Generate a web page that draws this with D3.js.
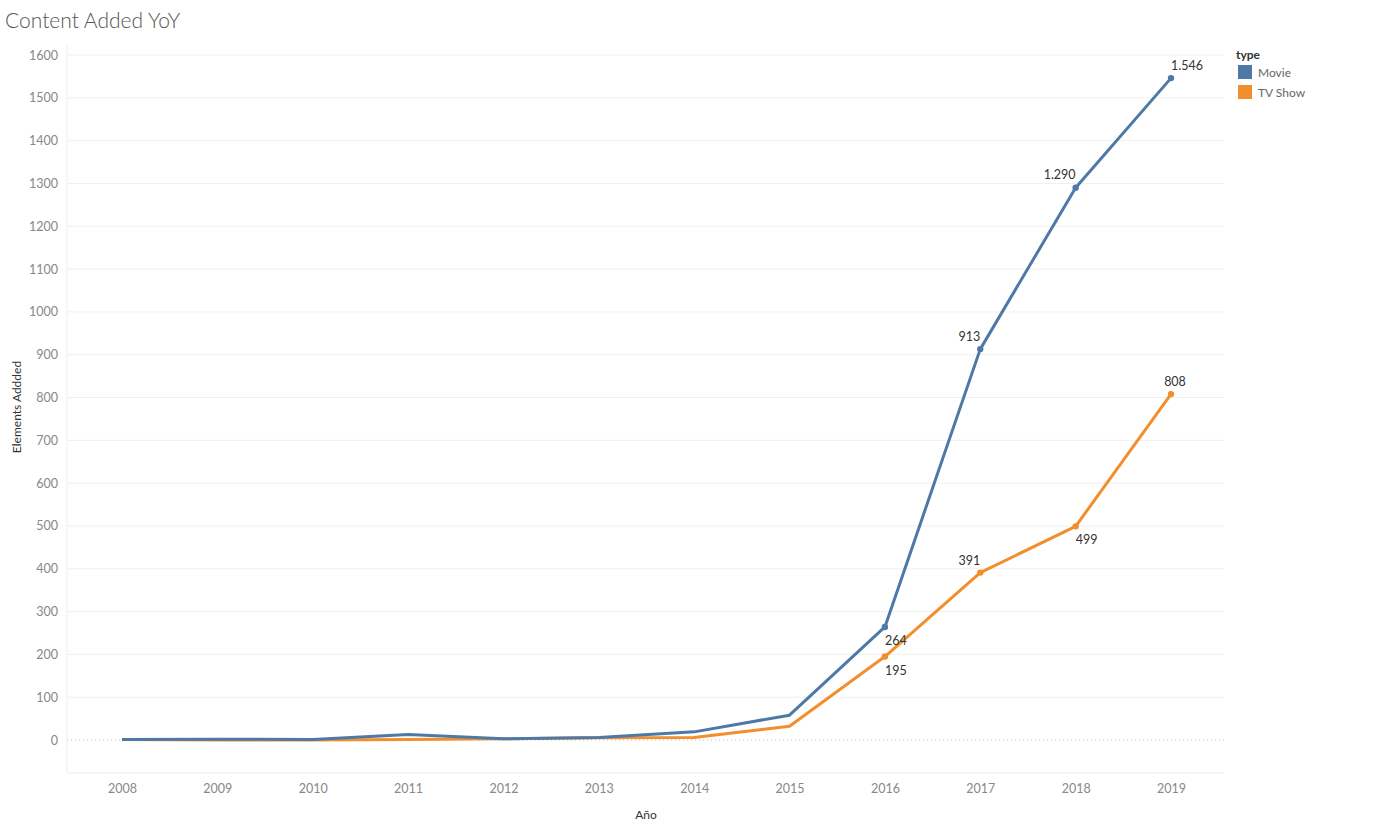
<!DOCTYPE html>
<html><head><meta charset="utf-8">
<script src="https://cdn.jsdelivr.net/npm/d3@7"></script>
<style>
body{margin:0;background:#fff;}
svg{font-family:"Lato","Open Sans",sans-serif;}
</style></head>
<body>
<svg id="c" width="1375" height="831"></svg>
<script>
const years = [2008,2009,2010,2011,2012,2013,2014,2015,2016,2017,2018,2019];
const movie = [1,2,1,13,3,6,19,58,264,913,1290,1546];
const tvShow = [1,0,0,1,3,5,6,32,195,391,499,808];
const yTicks = [0,100,200,300,400,500,600,700,800,900,1000,1100,1200,1300,1400,1500,1600];
const seriesNames = ["Movie","TV Show"];
const colors = ["#4e79a7","#f28e2b"];
// years that carry a mark + label
const labeledYears = [2016,2017,2018,2019];
// label placement per series (dx, dy relative to point)
const labelPos = {
  "Movie":   {2016:[11,18],2017:[-11,-8],2018:[-16,-9],2019:[16,-8]},
  "TV Show": {2016:[11,18],2017:[-11,-8],2018:[11,18],2019:[4,-8]}
};

const svg = d3.select("#c");
const fmt = d3.formatLocale({decimal:",",thousands:".",grouping:[3],currency:["",""]}).format(",d");

const x = d3.scaleLinear().domain([2008,2019]).range([122,1171]);
const y = d3.scaleLinear().domain([0,1600]).range([740,55]);
const plotL = 67, plotR = 1224, plotT = 45, plotB = 773;

// title
svg.append("text").attr("x",5).attr("y",28).attr("font-size",21).attr("font-weight",300)
  .attr("fill","#555").text("Content Added YoY");

// gridlines
svg.append("g").selectAll("line").data(yTicks.filter(d=>d!==0)).join("line")
  .attr("x1",plotL).attr("x2",plotR).attr("y1",d=>y(d)).attr("y2",d=>y(d))
  .attr("stroke","#f0f0f0").attr("stroke-width",1);
// zero line
svg.append("line").attr("x1",plotL).attr("x2",plotR).attr("y1",y(0)).attr("y2",y(0))
  .attr("stroke","#bbb").attr("stroke-dasharray","1,3");
// frame lines
svg.append("line").attr("x1",plotL).attr("x2",plotL).attr("y1",plotT).attr("y2",plotB).attr("stroke","#eee");
svg.append("line").attr("x1",plotL).attr("x2",plotR).attr("y1",plotB).attr("y2",plotB).attr("stroke","#eee");

// y axis
const yAxis = d3.axisLeft(y).tickValues(yTicks).tickSize(0).tickPadding(9).tickFormat(d3.format("d"));
const gy = svg.append("g").attr("transform",`translate(${plotL},0)`).call(yAxis);
gy.select(".domain").remove();
gy.selectAll("text").attr("font-size",12.5).attr("fill","#888").attr("font-family","Lato, 'Open Sans', sans-serif");

// x axis
const xAxis = d3.axisBottom(x).tickValues(years).tickSize(0).tickPadding(11).tickFormat(d3.format("d"));
const gx = svg.append("g").attr("transform",`translate(0,${plotB})`).call(xAxis);
gx.select(".domain").remove();
gx.selectAll("text").attr("font-size",12.5).attr("fill","#888").attr("font-family","Lato, 'Open Sans', sans-serif");

// axis titles
svg.append("text").attr("x",646).attr("y",819).attr("text-anchor","middle").attr("font-size",12)
  .attr("fill","#333").text("Año");
svg.append("text").attr("transform","translate(21,407) rotate(-90)").attr("text-anchor","middle")
  .attr("font-size",12).attr("fill","#333").text("Elements Addded");

// lines
const seriesData = [movie, tvShow];
const line = d3.line().x((d,i)=>x(years[i])).y(d=>y(d));
// draw TV first so Movie sits on top
[1,0].forEach(s=>{
  svg.append("path").datum(seriesData[s]).attr("d",line).attr("fill","none")
    .attr("stroke",colors[s]).attr("stroke-width",3).attr("stroke-linejoin","round");
});
[1,0].forEach(s=>{
  const pts = years.map((yr,i)=>({yr,v:seriesData[s][i]})).filter(p=>labeledYears.includes(p.yr));
  svg.append("g").selectAll("circle").data(pts).join("circle")
    .attr("cx",d=>x(d.yr)).attr("cy",d=>y(d.v)).attr("r",3.2).attr("fill",colors[s]);
  svg.append("g").selectAll("text").data(pts).join("text")
    .attr("x",d=>x(d.yr)+labelPos[seriesNames[s]][d.yr][0])
    .attr("y",d=>y(d.v)+labelPos[seriesNames[s]][d.yr][1])
    .attr("text-anchor","middle").attr("font-size",12.5).attr("fill","#333")
    .text(d=>fmt(d.v));
});

// legend
const lg = svg.append("g");
lg.append("text").attr("x",1236).attr("y",59).attr("font-size",12).attr("font-weight",700)
  .attr("fill","#333").text("type");
seriesNames.forEach((n,i)=>{
  lg.append("rect").attr("x",1238).attr("y",65+i*20).attr("width",14).attr("height",14).attr("fill",colors[i]);
  lg.append("text").attr("x",1258).attr("y",77+i*20).attr("font-size",12).attr("fill","#666").text(n);
});
</script>
</body></html>
